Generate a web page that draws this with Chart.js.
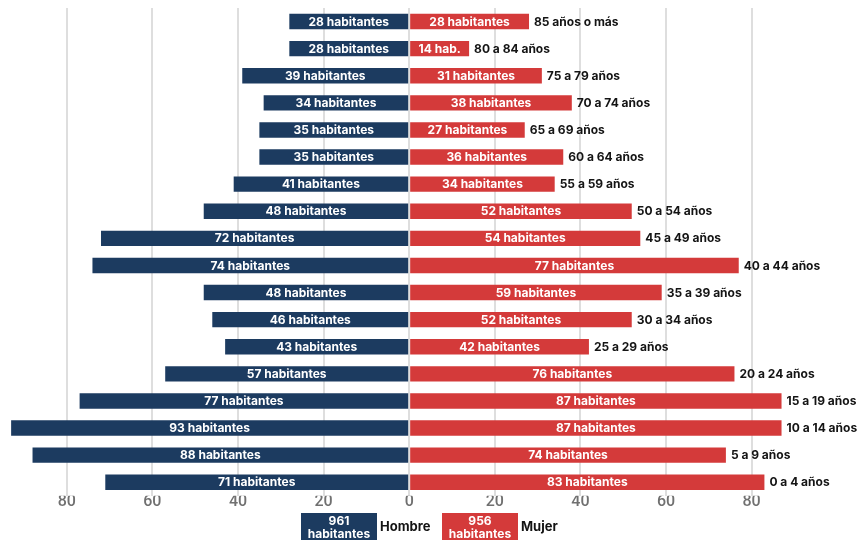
<!DOCTYPE html>
<html lang="es">
<head>
<meta charset="utf-8">
<title>Pirámide de población</title>
<script src="https://cdn.jsdelivr.net/npm/chart.js@4.4.1/dist/chart.umd.min.js"></script>
<style>
  html, body { margin: 0; padding: 0; background: #ffffff; }
  #wrap { width: 865px; height: 540px; position: relative; }
</style>
</head>
<body>
<div id="wrap"><canvas id="pyramid" width="865" height="540"></canvas></div>
<script>
// Age groups, oldest at the top
const ageGroups = [
  '85 años o más', '80 a 84 años', '75 a 79 años', '70 a 74 años', '65 a 69 años',
  '60 a 64 años', '55 a 59 años', '50 a 54 años', '45 a 49 años', '40 a 44 años',
  '35 a 39 años', '30 a 34 años', '25 a 29 años', '20 a 24 años', '15 a 19 años',
  '10 a 14 años', '5 a 9 años', '0 a 4 años'
];
const men   = [28, 28, 39, 34, 35, 35, 41, 48, 72, 74, 48, 46, 43, 57, 77, 93, 88, 71];
const women = [28, 14, 31, 38, 27, 36, 34, 52, 54, 77, 59, 52, 42, 76, 87, 87, 74, 83];
const totalMen = 961;
const totalWomen = 956;
const axisTicks = [-80, -60, -40, -20, 0, 20, 40, 60, 80];

const NAVY = '#1c3b60';
const RED = '#d43a3a';
const LABEL_FONT = 'bold 12px Inter, "Open Sans", "Liberation Sans", sans-serif';

// Writes the count inside each bar and the age group beyond each women bar
const barLabels = {
  id: 'barLabels',
  afterDatasetsDraw(chart) {
    const ctx = chart.ctx;
    ctx.save();
    ctx.font = LABEL_FONT;
    ctx.textBaseline = 'middle';
    chart.data.datasets.forEach((ds, di) => {
      const meta = chart.getDatasetMeta(di);
      meta.data.forEach((bar, i) => {
        const v = Math.abs(ds.data[i]);
        const width = Math.abs(bar.x - bar.base);
        let text = v + ' habitantes';
        if (ctx.measureText(text).width + 8 > width) text = v + ' hab.';
        ctx.fillStyle = '#ffffff';
        ctx.textAlign = 'center';
        ctx.fillText(text, (bar.x + bar.base) / 2, bar.y + 0.5);
        if (di === 1) {
          ctx.fillStyle = '#141414';
          ctx.textAlign = 'left';
          ctx.fillText(chart.data.labels[i], bar.x + 5, bar.y + 0.5);
        }
      });
    });
    ctx.restore();
  }
};

// Totals legend under the axis
const totalsLegend = {
  id: 'totalsLegend',
  afterDraw(chart) {
    const ctx = chart.ctx;
    const items = [
      { x: 301, color: NAVY, total: totalMen, name: 'Hombre' },
      { x: 442, color: RED, total: totalWomen, name: 'Mujer' }
    ];
    ctx.save();
    ctx.textBaseline = 'middle';
    items.forEach(it => {
      ctx.fillStyle = it.color;
      ctx.fillRect(it.x, 513, 76, 27);
      ctx.fillStyle = '#ffffff';
      ctx.textAlign = 'center';
      ctx.font = LABEL_FONT;
      ctx.fillText(String(it.total), it.x + 38, 521);
      ctx.fillText('habitantes', it.x + 38, 534);
      ctx.fillStyle = '#141414';
      ctx.textAlign = 'left';
      ctx.font = 'bold 13px Inter, "Open Sans", "Liberation Sans", sans-serif';
      ctx.fillText(it.name, it.x + 79, 527);
    });
    ctx.restore();
  }
};

new Chart(document.getElementById('pyramid'), {
  type: 'bar',
  data: {
    labels: ageGroups,
    datasets: [
      { label: 'Hombre', data: men.map(v => -v), backgroundColor: NAVY,
        categoryPercentage: 1, barPercentage: 0.57, borderWidth: 0 },
      { label: 'Mujer', data: women, backgroundColor: RED,
        categoryPercentage: 1, barPercentage: 0.57, borderWidth: 0 }
    ]
  },
  options: {
    indexAxis: 'y',
    responsive: false,
    animation: false,
    layout: { padding: { top: 8, bottom: 31, left: 0, right: 0 } },
    plugins: { legend: { display: false }, tooltip: { enabled: false } },
    scales: {
      x: {
        stacked: true,
        min: -95.6,
        max: 106.5,
        afterBuildTicks(axis) { axis.ticks = axisTicks.map(v => ({ value: v })); },
        border: { display: false },
        grid: { color: '#dedede', lineWidth: 2, drawTicks: false },
        ticks: {
          padding: -3,
          color: '#707070',
          font: { family: 'Roboto, "Open Sans", sans-serif', size: 16, weight: '500' },
          callback: v => String(Math.abs(v))
        }
      },
      y: {
        stacked: true,
        display: false
      }
    }
  },
  plugins: [barLabels, totalsLegend]
});
</script>
</body>
</html>
